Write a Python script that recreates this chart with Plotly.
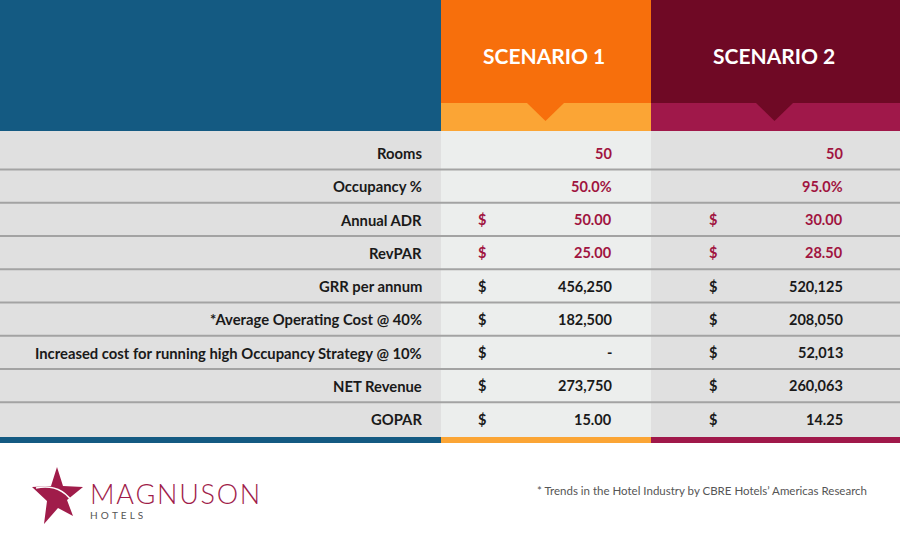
import plotly.graph_objects as go

# ---------------- data ----------------
row_labels = ["Rooms", "Occupancy %", "Annual ADR", "RevPAR", "GRR per annum",
              "*Average Operating Cost @ 40%",
              "Increased cost for running high Occupancy Strategy @ 10%",
              "NET Revenue", "GOPAR"]
scenario_names = ["SCENARIO 1", "SCENARIO 2"]
scenario1 = [50, 0.50, 50.00, 25.00, 456250, 182500, 0, 273750, 15.00]
scenario2 = [50, 0.95, 30.00, 28.50, 520125, 208050, 52013, 260063, 14.25]
row_format = ["int", "pct", "money", "money", "int", "int", "int", "int", "money"]
row_dollar = [False, False, True, True, True, True, True, True, True]
row_highlight = [True, True, True, True, False, False, False, False, False]
footnote = "* Trends in the Hotel Industry by CBRE Hotels\u2019 Americas Research"
brand = "MAGNUSON"
brand_sub = "HOTELS"

# ---------------- styling ----------------
BLUE = "#145a82"
ORANGE = "#f76f0c"
ORANGE_L = "#fba535"
MAROON = "#6f0925"
MAROON_L = "#a0184a"
VAL_RED = "#a0143f"
TXT = "#1a1a1a"
FONT = "Lato"

W, H = 900, 547
col_x = [0, 441, 651, 900]
head_h, band_h = 103, 131
row_top, row_h, first_center = 131, 33.25, 153
table_bottom = 437


def fmt(v, kind):
    if kind == "pct":
        return f"{v*100:.1f}%"
    if kind == "money":
        return f"{v:,.2f}"
    if v == 0:
        return "-"
    return f"{v:,.0f}"


shapes = []
annotations = []


def rect(x0, y0, x1, y1, color):
    shapes.append(dict(type="rect", xref="x", yref="y", x0=x0, y0=y0, x1=x1, y1=y1,
                       fillcolor=color, line=dict(width=0), layer="below"))


# header blocks
rect(0, 0, col_x[1], band_h, BLUE)
rect(col_x[1], 0, col_x[2], head_h, ORANGE)
rect(col_x[1], head_h, col_x[2], band_h, ORANGE_L)
rect(col_x[2], 0, col_x[3], head_h, MAROON)
rect(col_x[2], head_h, col_x[3], band_h, MAROON_L)
shapes.append(dict(type="path", xref="x", yref="y", path=f"M527,{head_h} L564,{head_h} L545.5,121 Z",
                   fillcolor=ORANGE, line=dict(width=0)))
shapes.append(dict(type="path", xref="x", yref="y", path=f"M756,{head_h} L793,{head_h} L774.5,121 Z",
                   fillcolor=MAROON, line=dict(width=0)))

# table body
rect(0, row_top, col_x[1], table_bottom, "#e0e0e0")
rect(col_x[1], row_top, col_x[2], table_bottom, "#eceeed")
rect(col_x[2], row_top, col_x[3], table_bottom, "#e0e0e0")
n = len(row_labels)
for i in range(n - 1):
    y = first_center + i * row_h + 16.6
    shapes.append(dict(type="line", xref="x", yref="y", x0=0, x1=W, y0=y, y1=y,
                       line=dict(color="#a3a3a3", width=2)))
# bottom bars
rect(0, table_bottom, col_x[1], table_bottom + 6, BLUE)
rect(col_x[1], table_bottom, col_x[2], table_bottom + 6, ORANGE_L)
rect(col_x[2], table_bottom, col_x[3], table_bottom + 6, MAROON_L)

# header texts
for name, cx in zip(scenario_names, [544, 774]):
    annotations.append(dict(x=cx, y=55, xref="x", yref="y", text=name, showarrow=False,
                            xanchor="center", yanchor="middle",
                            font=dict(family=FONT, size=21, color="white", weight="bold")))

# rows
for i, lab in enumerate(row_labels):
    yc = first_center + i * row_h
    annotations.append(dict(x=424, y=yc, xref="x", yref="y", text=lab, showarrow=False,
                            xanchor="right", yanchor="middle",
                            font=dict(family=FONT, size=14.8, color=TXT, weight="bold")))
    color = VAL_RED if row_highlight[i] else TXT
    for vals, xd, xr in [(scenario1, 482, 614), (scenario2, 713, 845)]:
        annotations.append(dict(x=xr, y=yc, xref="x", yref="y", text=fmt(vals[i], row_format[i]),
                                showarrow=False, xanchor="right", yanchor="middle",
                                font=dict(family=FONT, size=14.5, color=color, weight="bold")))
        if row_dollar[i]:
            annotations.append(dict(x=xd, y=yc, xref="x", yref="y", text="$", showarrow=False,
                                    xanchor="center", yanchor="middle",
                                    font=dict(family=FONT, size=14.5, color=color, weight="bold")))

# footnote
annotations.append(dict(x=869, y=490, xref="x", yref="y", text=footnote, showarrow=False,
                        xanchor="right", yanchor="middle",
                        font=dict(family=FONT, size=11.5, color="#555555")))

# logo star
STAR = "#a01c4a"
shapes.append(dict(type="path", xref="x", yref="y",
                   path="M57,467 L63,486 L83,487 L67,500 L73,516 L58,508 L44,524 L47,501 L32,487 L51,486 Z",
                   fillcolor=STAR, line=dict(width=0)))
shapes.append(dict(type="path", xref="x", yref="y",
                   path="M36,488 Q62,483 74,505",
                   line=dict(color="white", width=1.5)))

annotations.append(dict(x=88, y=492.5, xref="x", yref="y", text="\u200a".join(brand), showarrow=False,
                        xanchor="left", yanchor="middle", height=24, valign="middle",
                        font=dict(family=FONT, size=27, color=STAR, weight=300)))
annotations.append(dict(x=88, y=514.5, xref="x", yref="y", text="\u00a0\u200a".join(brand_sub),
                        showarrow=False, xanchor="left", yanchor="middle", height=11,
                        font=dict(family=FONT, size=10, color="#555555")))

fig = go.Figure()
fig.update_layout(
    width=W, height=H, margin=dict(l=0, r=0, t=0, b=0),
    paper_bgcolor="white", plot_bgcolor="white",
    xaxis=dict(range=[0, W], visible=False, fixedrange=True),
    yaxis=dict(range=[H, 0], visible=False, fixedrange=True),
    shapes=shapes, annotations=annotations, showlegend=False,
)
fig.write_html("out.html", config={"displayModeBar": False},
               post_script="document.body.style.margin='0';document.body.style.overflow='hidden';")
